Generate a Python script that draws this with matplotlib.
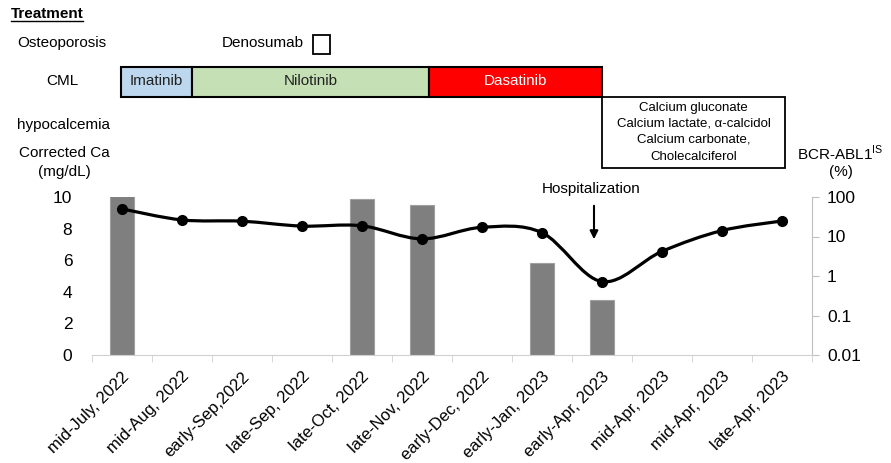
import numpy as np
import matplotlib
matplotlib.use("Agg")
import matplotlib.pyplot as plt
from matplotlib.path import Path
from matplotlib.patches import PathPatch, Rectangle
from matplotlib.lines import Line2D

plt.rcParams['font.family'] = ['Liberation Sans', 'DejaVu Sans']

# ---------------- data ----------------
dates = ["mid-July, 2022", "mid-Aug, 2022", "early-Sep,2022", "late-Sep, 2022",
         "late-Oct, 2022", "late-Nov, 2022", "early-Dec, 2022", "early-Jan, 2023",
         "early-Apr, 2023", "mid-Apr, 2023", "mid-Apr, 2023", "late-Apr, 2023"]
corrected_ca = [9.25, 8.55, 8.47, 8.16, 8.18, 7.35, 8.08, 7.75, 4.65, 6.55, 7.87, 8.48]
# BCR-ABL1 (IS, %) measured at: mid-July, late-Oct, late-Nov, early-Jan, early-Apr
bcr_abl = [105, None, None, None, 91, 61, None, 2.1, 0.245, None, None, None]

ca_ticks = [0, 2, 4, 6, 8, 10]
bcr_ticks = [0.01, 0.1, 1, 10, 100]
bcr_ticklabels = ["0.01", "0.1", "1", "10", "100"]

treatments = ["Imatinib", "Nilotinib", "Dasatinib"]
treat_colors = ["#bdd7ee", "#c5e0b4", "#ff0000"]
treat_text_colors = ["#222222", "#222222", "white"]
calcium_drugs = ["Calcium gluconate", "Calcium lactate, \u03b1-calcidol",
                 "Calcium carbonate,", "Cholecalciferol"]

# ---------------- figure ----------------
W, H = 891, 463
fig = plt.figure(figsize=(W / 100, H / 100), dpi=100)

def fx(px):
    return px / W

def fy(py):
    return 1 - py / H

ax = fig.add_axes([fx(91.7), fy(355), fx(811.7) - fx(91.7), fy(197) - fy(355)])
ax2 = ax.twinx()

x = np.arange(len(dates))

# bars on log axis
bx = [i for i, v in enumerate(bcr_abl) if v is not None]
bv = [v for v in bcr_abl if v is not None]
ax2.set_yscale('log')
ax2.bar(bx, [v - 0.01 for v in bv], bottom=0.01, width=0.4,
        color='#7f7f7f', edgecolor='#a0a0a0', linewidth=0.8)
ax2.set_ylim(0.01, 100)
ax2.set_yticks(bcr_ticks)
ax2.set_yticklabels(bcr_ticklabels)
ax2.yaxis.set_minor_locator(matplotlib.ticker.NullLocator())
ax2.tick_params(axis='y', length=5, color='#bfbfbf', labelsize=12.5, pad=6)

# smooth line (Catmull-Rom through the points, drawn as Bezier path)
pts = np.column_stack([x, corrected_ca]).astype(float)
verts = [pts[0]]
codes = [Path.MOVETO]
n = len(pts)
for i in range(n - 1):
    p0 = pts[max(i - 1, 0)]
    p1 = pts[i]
    p2 = pts[i + 1]
    p3 = pts[min(i + 2, n - 1)]
    c1 = p1 + (p2 - p0) / 6.0
    c2 = p2 - (p3 - p1) / 6.0
    verts += [c1, c2, p2]
    codes += [Path.CURVE4] * 3
ax.add_patch(PathPatch(Path(verts, codes), facecolor='none', edgecolor='black',
                       linewidth=2.3, zorder=3))
ax.plot(x, corrected_ca, 'o', color='black', markersize=7, zorder=4)

ax.set_zorder(ax2.get_zorder() + 1)
ax.patch.set_visible(False)

ax.set_xlim(-0.5, len(dates) - 0.5)
ax.set_ylim(0, 10)
ax.set_yticks(ca_ticks)
ax.tick_params(axis='y', length=0, labelsize=12.5, pad=14)
ax.set_xticks(np.arange(len(dates) + 1) - 0.5, minor=True)
ax.set_xticks(x)
ax.set_xticklabels(dates, rotation=45, ha='right', rotation_mode='anchor', fontsize=12)
ax.tick_params(axis='x', which='major', length=0, pad=10)
ax.tick_params(axis='x', which='minor', length=5, color='#d0d0d0')

for a in (ax, ax2):
    for s in ('top', 'left'):
        a.spines[s].set_visible(False)
ax.spines['right'].set_visible(False)
ax2.spines['bottom'].set_visible(False)
ax.spines['bottom'].set_color('#d0d0d0')
ax2.spines['right'].set_color('#bfbfbf')

# ---------------- annotations (top area) ----------------
fs = 11
fig.text(fx(11), fy(14), "Treatment", fontsize=fs, fontweight='bold', va='center', ha='left')
fig.add_artist(Line2D([fx(11), fx(83)], [fy(21), fy(21)], color='black', lw=1))
fig.text(fx(62), fy(43), "Osteoporosis", fontsize=fs, ha='center', va='center')
fig.text(fx(263), fy(43), "Denosumab", fontsize=fs, ha='center', va='center')
fig.add_artist(Rectangle((fx(312.5), fy(53.5)), fx(17.5), fy(34.5) - fy(53.5),
                         facecolor='white', edgecolor='black', lw=1.3))
fig.text(fx(62), fy(81), "CML", fontsize=fs, ha='center', va='center')

edges = [120.7, 192.3, 429, 602.3]
for i, name in enumerate(treatments):
    x0, x1 = edges[i], edges[i + 1]
    fig.add_artist(Rectangle((fx(x0), fy(96.5)), fx(x1) - fx(x0), fy(66.5) - fy(96.5),
                             facecolor=treat_colors[i], edgecolor='black', lw=1.5))
    fig.text(fx((x0 + x1) / 2), fy(81), name, fontsize=fs, ha='center', va='center',
             color=treat_text_colors[i])

fig.add_artist(Rectangle((fx(602.3), fy(168.3)), fx(785) - fx(602.3), fy(96.7) - fy(168.3),
                         facecolor='white', edgecolor='black', lw=1.3))
for yy, t in zip([108.5, 124, 140, 156.5], calcium_drugs):
    fig.text(fx(693.5), fy(yy), t, fontsize=9.5, ha='center', va='center')

fig.text(fx(63), fy(125), "hypocalcemia", fontsize=fs, ha='center', va='center')
fig.text(fx(64), fy(153), "Corrected Ca", fontsize=fs, ha='center', va='center')
fig.text(fx(64), fy(172), "(mg/dL)", fontsize=fs, ha='center', va='center')
fig.text(fx(840), fy(153), r"BCR-ABL1$^{\mathregular{IS}}$", fontsize=fs, ha='center', va='center')
fig.text(fx(841), fy(172), "(%)", fontsize=fs, ha='center', va='center')

fig.text(fx(591), fy(189), "Hospitalization", fontsize=fs, ha='center', va='center')
fig.add_artist(matplotlib.patches.FancyArrowPatch((fx(594), fy(203)), (fx(594), fy(242)),
                                                  transform=fig.transFigure,
                                                  arrowstyle='-|>', mutation_scale=12,
                                                  color='black', lw=1.5))

fig.savefig("out.png", dpi=100)
